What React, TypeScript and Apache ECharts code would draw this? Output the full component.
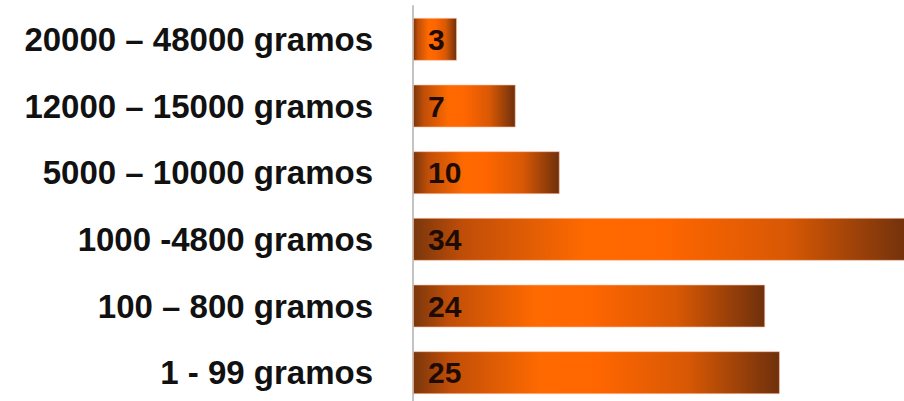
import React, { useEffect, useRef } from "react";
import * as echarts from "echarts";

const categories = [
  "1 - 99 gramos",
  "100 – 800 gramos",
  "1000 -4800 gramos",
  "5000 – 10000 gramos",
  "12000 – 15000 gramos",
  "20000 – 48000 gramos",
];
const values = [25, 24, 34, 10, 7, 3];

export default function App() {
  const ref = useRef<HTMLDivElement>(null);
  useEffect(() => {
    if (!ref.current) return;
    const chart = echarts.init(ref.current, null, { renderer: "svg" });
    chart.setOption({
      animation: false,
      backgroundColor: "#ffffff",
      grid: { left: 413, right: 8, top: 6, height: 400, containLabel: false },
      xAxis: {
        type: "value",
        min: 0,
        max: 34,
        show: false,
        splitLine: { show: false },
      },
      yAxis: {
        type: "category",
        data: categories,
        axisLine: { show: true, lineStyle: { color: "#c4c4c4", width: 2 } },
        axisTick: { show: false },
        axisLabel: {
          margin: 40,
          color: "#111111",
          fontFamily: "Liberation Sans, Arial, sans-serif",
          fontWeight: "bold",
          fontSize: 33,
        },
      },
      series: [
        {
          type: "bar",
          data: values,
          barWidth: 43,
          itemStyle: {
            color: {
              type: "linear",
              x: 0,
              y: 0,
              x2: 1,
              y2: 0,
              colorStops: [
                { offset: 0, color: "#7a360c" },
                { offset: 0.1, color: "#c04e08" },
                { offset: 0.35, color: "#ff6a00" },
                { offset: 0.5, color: "#ff6600" },
                { offset: 0.75, color: "#d85804" },
                { offset: 1, color: "#6e300c" },
              ],
            },
            borderColor: "rgba(255,190,160,0.6)",
            borderWidth: 1,
          },
          label: {
            show: true,
            position: "insideLeft",
            distance: 15,
            color: "#1e0c04",
            fontFamily: "Liberation Sans, Arial, sans-serif",
            fontWeight: "bold",
            fontSize: 30,
          },
        },
      ],
    });
    return () => chart.dispose();
  }, []);
  return (
    <div
      style={{
        position: "fixed",
        left: 0,
        top: 0,
        width: 904,
        height: 401,
        overflow: "hidden",
      }}
    >
      <div ref={ref} style={{ width: 920, height: 420 }} />
    </div>
  );
}
